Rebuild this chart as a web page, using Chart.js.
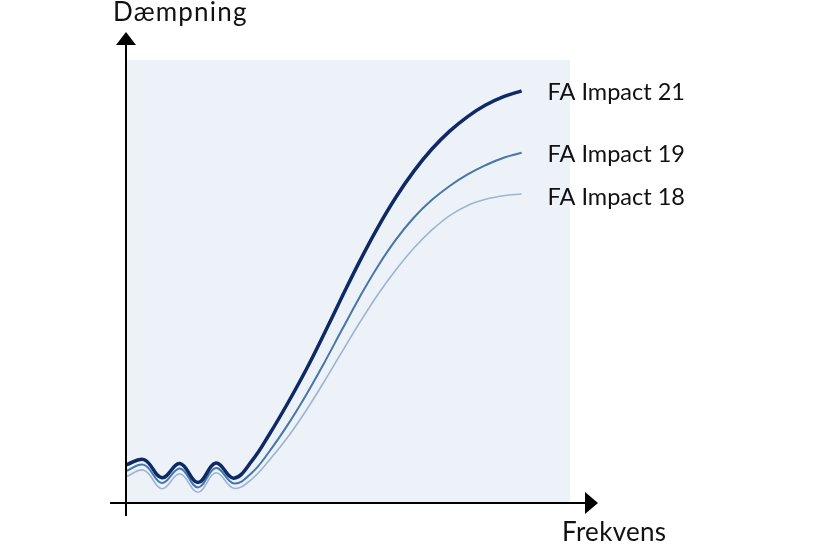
<!DOCTYPE html>
<html>
<head>
<meta charset="utf-8">
<script src="https://cdn.jsdelivr.net/npm/chart.js@4"></script>
<style>
html,body{margin:0;padding:0;background:#fff;}
#wrap{width:816px;height:544px;position:relative;}
</style>
</head>
<body>
<div id="wrap"><canvas id="dampChart" width="816" height="544"></canvas></div>
<script>
// frequency positions (relative units), shared by the three curves
const freqs = [0, 4.05, 8.1, 12.15, 16.2, 20.25, 24.3, 28.35, 32.4, 36.45, 40.5, 44.55,
  48.6, 52.65, 56.7, 60.75, 64.8, 68.85, 72.9, 76.95, 81.0, 85.05, 89.1];

const damp21 = [8.4, 9.6, 5.5, 8.7, 4.4, 8.8, 5.4, 9.3, 15.5, 22.4, 29.8, 37.9,
  46.3, 54.5, 62.1, 68.9, 74.8, 79.8, 83.9, 87.2, 89.8, 91.7, 93.0];
const damp19 = [7.0, 8.4, 4.3, 7.6, 3.3, 7.7, 4.2, 6.6, 11.6, 17.5, 24.1, 31.3,
  38.9, 46.4, 53.3, 59.3, 64.3, 68.3, 71.5, 74.1, 76.2, 77.9, 79.0];
const damp18 = [5.7, 7.2, 3.0, 6.4, 2.2, 6.6, 3.1, 5.2, 9.6, 14.7, 20.6, 27.1,
  33.9, 40.6, 46.9, 52.5, 57.4, 61.5, 64.8, 67.1, 68.5, 69.3, 69.7];

const seriesNames = ["FA Impact 21", "FA Impact 19", "FA Impact 18"];
const axisTitles = ["Frekvens", "Dæmpning"];

function toPoints(xs, ys){
  let pts = [];
  for(let i=0;i<xs.length;i++){
    pts.push({x: xs[i], y: ys[i]});
  }
  return pts;
}

const decor = {
  id: "decor",
  beforeDatasetsDraw(chart){
    const {ctx, chartArea} = chart;
    ctx.save();
    ctx.fillStyle = "#edf2f8";
    ctx.fillRect(chartArea.left + 1, chartArea.top, chartArea.right - chartArea.left - 1, chartArea.bottom - chartArea.top);
    ctx.restore();
  },
  afterDraw(chart){
    const {ctx, chartArea} = chart;
    const L = chartArea.left, B = chartArea.bottom + 1;
    ctx.save();
    ctx.strokeStyle = "#000";
    ctx.fillStyle = "#000";
    ctx.lineWidth = 2;
    // y axis
    ctx.beginPath();
    ctx.moveTo(L, B + 13);
    ctx.lineTo(L, 44);
    ctx.stroke();
    ctx.beginPath();
    ctx.moveTo(L, 32);
    ctx.lineTo(L - 10, 45);
    ctx.lineTo(L + 10, 45);
    ctx.closePath();
    ctx.fill();
    // x axis
    ctx.beginPath();
    ctx.moveTo(L - 16, B);
    ctx.lineTo(586, B);
    ctx.stroke();
    ctx.beginPath();
    ctx.moveTo(598, B);
    ctx.lineTo(585, B - 11);
    ctx.lineTo(585, B + 11);
    ctx.closePath();
    ctx.fill();

    ctx.fillStyle = "#111";
    ctx.font = "26px Lato";
    ctx.textBaseline = "alphabetic";
    ctx.textAlign = "left";
    ctx.letterSpacing = "1.2px";
    ctx.fillText(axisTitles[1], 113, 21);
    ctx.letterSpacing = "0.3px";
    ctx.fillText(axisTitles[0], 562, 541);
    ctx.letterSpacing = "0px";

    // series labels at the end of each line
    ctx.font = "23.5px Lato";
    ctx.textBaseline = "middle";
    const offs = [1, 2, 3];
    chart.data.datasets.forEach((ds, i) => {
      const meta = chart.getDatasetMeta(i);
      const last = meta.data[meta.data.length - 1];
      ctx.fillText(ds.label, last.x + 26, last.y + offs[i]);
    });
    ctx.restore();
  }
};

new Chart(document.getElementById("dampChart"), {
  type: "line",
  data: {
    datasets: [
      {label: seriesNames[0], data: toPoints(freqs, damp21), borderColor: "#0e2a66", borderWidth: 3.5},
      {label: seriesNames[1], data: toPoints(freqs, damp19), borderColor: "#4776aa", borderWidth: 2},
      {label: seriesNames[2], data: toPoints(freqs, damp18), borderColor: "#9cb4d6", borderWidth: 1.6}
    ]
  },
  options: {
    responsive: false,
    animation: false,
    layout: {padding: {left: 126, right: 246, top: 60, bottom: 42}},
    elements: {
      point: {radius: 0},
      line: {tension: 0.4, fill: false}
    },
    scales: {
      x: {type: "linear", min: 0, max: 100, display: false},
      y: {min: 0, max: 100, display: false}
    },
    plugins: {legend: {display: false}, tooltip: {enabled: false}},
    clip: false
  },
  plugins: [decor]
});
</script>
</body>
</html>
